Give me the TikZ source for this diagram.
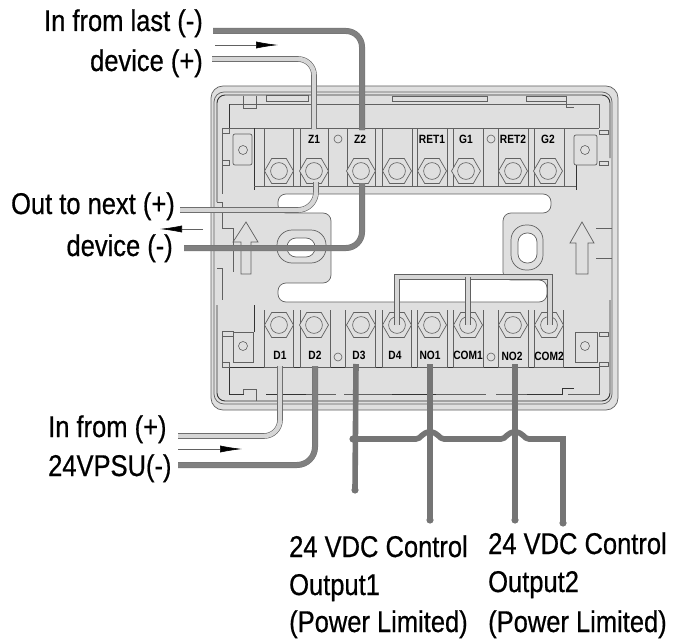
\documentclass[tikz,border=0pt]{standalone}
\usepackage{fontspec}
\setmainfont[FakeStretch=0.85]{Liberation Sans}
\newfontfamily\heavyfont[FakeStretch=0.85,FakeBold=0.6]{Liberation Sans}
\usetikzlibrary{shapes.geometric,arrows.meta}
\definecolor{bodyc}{gray}{0.875}
\definecolor{edgec}{gray}{0.38}
\definecolor{wdark}{gray}{0.5}
\definecolor{wlight}{gray}{0.84}
\tikzset{
  bodyline/.style={draw=edgec,line width=0.7pt},
  darkline/.style={draw=black!80,line width=0.9pt},
  block/.style={draw=edgec,line width=0.7pt,fill=bodyc},
  nut/.style={regular polygon,regular polygon sides=6,draw=edgec,line width=0.7pt,fill=bodyc,minimum size=29pt,inner sep=0pt},
  hole/.style={circle,draw=edgec,line width=0.6pt,minimum size=9pt,inner sep=0pt},
  wiredark/.style={draw=black!55,double=wdark,double distance=5pt,line width=0.5pt},
  wirelight/.style={draw=edgec,double=wlight,double distance=4.4pt,line width=0.6pt},
  wireplain/.style={draw=wdark!92!black,line width=5.6pt},
  flow/.style={draw=edgec,line width=0.6pt,-{Latex[length=22pt,width=7pt,black]}},
  biglabel/.style={font=\heavyfont\fontsize{30}{32}\selectfont,inner sep=0pt,text=black},
  termlabel/.style={font=\fontsize{12}{12}\selectfont\bfseries,inner sep=0pt,text=black},
}
\newcommand{\nutat}[3]{\node[nut] (#1) at (#2,#3) {}; \draw[edgec,line width=0.6pt] (#2,#3) circle (8.4pt);}
\begin{document}
\begin{tikzpicture}[x=1pt,y=-1pt]
\useasboundingbox (0,0) rectangle (683,642);
% housing
\draw[bodyline,fill=bodyc,rounded corners=12pt] (211,86) rectangle (618,410);
\draw[bodyline,rounded corners=10pt] (214,92) -- (612,92) -- (612,404) -- (214,404) -- cycle;
\draw[darkline,rounded corners=8pt] (610,158) -- (610,95) -- (217,95) -- (217,202);
\draw[darkline,rounded corners=8pt] (217,305) -- (217,401) -- (610,401) -- (610,300);
\draw[bodyline] (217,202) -- (222,202) -- (222,228) -- (233,228) -- (233,272);
\draw[bodyline] (217,268) -- (222,268) -- (222,300);
\draw[bodyline] (612,228) -- (596,228) (612,258) -- (596,258);
% central cut-out
\draw[bodyline,fill=white,rounded corners=8pt] (278,194) -- (551,194) -- (551,213) -- (503,213) -- (503,280) -- (547,280) -- (547,302) -- (278,302) -- (278,283) -- (331,283) -- (331,213) -- (278,213) -- cycle;
% bands
\draw[bodyline] (229,128) -- (229,104) -- (599,104) -- (599,128);
\draw[darkline] (229,128) -- (229,104);
\draw[bodyline] (229,128) -- (599,128);
\draw[bodyline] (266,95) rectangle (308,101);
\draw[bodyline] (243,96) -- (243,108) -- (256,108) -- (256,96);
\draw[bodyline] (392,96) rectangle (487,101);
\draw[bodyline] (526,96) -- (566,96) -- (566,101) -- (526,101) -- cycle;
\draw[bodyline] (566,96) -- (566,107) -- (574,107);
\draw[darkline] (254,128) -- (254,190);
\draw[darkline] (576,165) -- (576,190);
\draw[bodyline] (254,186) -- (576,186);
\draw[darkline] (229,367) -- (600,367);
\draw[darkline] (229,367) -- (229,394) -- (244,394);
\draw[bodyline] (599,367) -- (599,394) -- (568,394);
\draw[darkline] (254,305) -- (254,332);
\draw[bodyline] (243,389) -- (256,389) -- (256,401) (243,389) -- (243,394);
\draw[darkline] (266,394) -- (306,394);
\draw[darkline] (392,394) -- (436,394);
\draw[darkline] (527,394) -- (562,394) -- (562,388) -- (574,388);
\draw[bodyline] (306,394) -- (336,394) (344,394) -- (392,394) (436,394) -- (486,394) (496,394) -- (527,394);
\draw[bodyline] (222,128) -- (222,194) (222,332) -- (222,366);
\draw[bodyline] (222,128) rectangle (229,133);
\draw[bodyline] (222,160) rectangle (229,165);
\draw[bodyline] (222,331) rectangle (233,336);
\draw[bodyline] (222,362) rectangle (229,367);
\draw[bodyline] (599,130) rectangle (608,134);
\draw[bodyline] (599,161) rectangle (608,165);
\draw[bodyline] (599,332) rectangle (608,336);
\draw[bodyline] (599,362) rectangle (608,366);
% mounting tabs
\draw[bodyline,rounded corners=2pt] (233,134) rectangle (252,165);
\node[hole] (hA) at (243,150) {};
\draw[bodyline,rounded corners=2pt] (574,135) rectangle (597,165);
\node[hole] (hB) at (585,150) {};
\draw[bodyline] (233,332) rectangle (253,362);
\node[hole] (hC) at (243,346) {};
\draw[bodyline] (575,332) rectangle (597,362);
\node[hole] (hD) at (585,346) {};
\node[hole,minimum size=8pt] (hE) at (338,139) {};
\node[hole,minimum size=8pt] (hF) at (491,139) {};
\node[hole,minimum size=8pt] (hG) at (338,357) {};
\node[hole,minimum size=8pt] (hH) at (491,357) {};
% ovals
\draw[bodyline,rounded corners=15pt] (277,230) rectangle (326,263);
\draw[bodyline,fill=white,rounded corners=9pt] (287,238) rectangle (315,257);
\draw[bodyline,rounded corners=15pt] (511,225) rectangle (543,270);
\draw[bodyline,fill=white,rounded corners=9pt] (518,233) rectangle (537,263);
% arrows on housing
\draw[bodyline] (246,222) -- (258,242) -- (251,242) -- (251,274) -- (241,274) -- (241,242) -- (233,242) -- cycle;
\draw[bodyline] (582,222) -- (594,243) -- (588,243) -- (588,274) -- (576,274) -- (576,243) -- (570,243) -- cycle;
% terminal blocks, top
\foreach \xa/\xb in {264/293,300/328,347/375,382/412,417/447,453/483,498/528,534/564}
  \draw[block] (\xa,128) rectangle (\xb,186);
% terminal blocks, bottom
\foreach \xa/\xb in {264/293,300/330,345/375,382/411,417/447,453/483,498/528,534/563}{
  \fill[bodyc] (\xa,310) rectangle (\xb,367);
  \draw[bodyline] (\xa,310) -- (\xa,367) -- (\xb,367) -- (\xb,310);
}
\nutat{tA}{279}{171}
\nutat{tB}{314}{171}
\nutat{tC}{361}{171}
\nutat{tD}{397}{171}
\nutat{tE}{432}{171}
\nutat{tF}{466}{171}
\nutat{tG}{513}{171}
\nutat{tH}{548}{171}
\nutat{bA}{279}{325}
\nutat{bB}{314}{325}
\nutat{bC}{361}{325}
\nutat{bD}{397}{325}
\nutat{bE}{432}{325}
\nutat{bF}{468}{325}
\nutat{bG}{513}{325}
\nutat{bH}{549}{325}
% terminal labels
\node[termlabel] (lZa) at (314,139) {Z1};
\node[termlabel] (lZb) at (360,139) {Z2};
\node[termlabel] (lRa) at (432,139) {RET1};
\node[termlabel] (lGa) at (466,139) {G1};
\node[termlabel] (lRb) at (513,139) {RET2};
\node[termlabel] (lGb) at (548,139) {G2};
\node[termlabel] (lDa) at (280,355) {D1};
\node[termlabel] (lDb) at (315,355) {D2};
\node[termlabel] (lDc) at (359,355) {D3};
\node[termlabel] (lDd) at (395,355) {D4};
\node[termlabel] (lNa) at (430,355) {NO1};
\node[termlabel] (lCa) at (468,355) {COM1};
\node[termlabel] (lNb) at (512,356) {NO2};
\node[termlabel] (lCb) at (549,356) {COM2};
% free ends
\coordinate (inLastEnd) at (213,31);
\coordinate (inPlusEnd) at (212,59);
\coordinate (outPlusEnd) at (180,210);
\coordinate (outMinusEnd) at (184,248);
\coordinate (psuPlusEnd) at (178,436);
\coordinate (psuMinusEnd) at (178,465);
\coordinate (dEnd) at (355,490);
\coordinate (noAEnd) at (430,520);
\coordinate (noBEnd) at (515,520);
\coordinate (comEnd) at (563,523);
% wires
\draw[wiredark,rounded corners=16pt] (inLastEnd) -- (362,31) -- (362,130);
\draw[wirelight,rounded corners=16pt] (inPlusEnd) -- (314,59) -- (314,129);
\draw[wirelight,rounded corners=18pt] (outPlusEnd) -- (316,210) -- (316,182);
\draw[wiredark,rounded corners=16pt] (outMinusEnd) -- (362,248) -- (362,183);
\draw[wirelight,rounded corners=16pt] (psuPlusEnd) -- (280,436) -- (280,366);
\draw[wiredark,rounded corners=18pt] (psuMinusEnd) -- (315,465) -- (315,366);
\draw[wirelight] (397,325) -- (397,277) -- (550,277) -- (550,325);
\draw[wirelight] (468,277) -- (468,325);
% output wiring
\draw[wireplain] (356,364) -- (dEnd);
\draw[wireplain] (430,364) -- (noAEnd);
\draw[wireplain] (515,364) -- (noBEnd);
\draw[wireplain,line join=miter] (353,439) -- (416,439) .. controls (421,439) and (422,432) .. (430,432) .. controls (438,432) and (439,439) .. (444,439) -- (501,439) .. controls (506,439) and (507,432) .. (515,432) .. controls (523,432) and (524,439) .. (529,439) -- (563,439) -- (comEnd);
\fill[wdark!92!black] (353,439) circle (3.6pt);
\fill[wdark!92!black] (dEnd) circle (3.6pt);
\fill[wdark!92!black] (noAEnd) circle (3.6pt);
\fill[wdark!92!black] (noBEnd) circle (3.6pt);
\fill[wdark!92!black] (comEnd) circle (3.6pt);
% flow arrows
\coordinate (fAa) at (215,45); \coordinate (fAb) at (278,45);
\coordinate (fBa) at (203,229); \coordinate (fBb) at (160,229);
\coordinate (fCa) at (178,449); \coordinate (fCb) at (242,449);
\draw[flow] (fAa) -- (fAb);
\draw[flow] (fBa) -- (fBb);
\draw[flow] (fCa) -- (fCb);
% big labels
\node[biglabel,anchor=base east] (tA1) at (203,31) {In from last (-)};
\node[biglabel,anchor=base east] (tA2) at (203,71) {device (+)};
\node[biglabel,anchor=base east] (tB1) at (175,214) {Out to next (+)};
\node[biglabel,anchor=base east] (tB2) at (173,256) {device (-)};
\node[biglabel,anchor=base west] (tC1) at (48,437) {In from (+)};
\node[biglabel,anchor=base west] (tC2) at (48,476) {24VPSU(-)};
\node[biglabel,anchor=base west] (tD1) at (289,557) {24 VDC Control};
\node[biglabel,anchor=base west] (tD2) at (289,595) {Output1};
\node[biglabel,anchor=base west] (tD3) at (289,632) {(Power Limited)};
\node[biglabel,anchor=base west] (tE1) at (488,554) {24 VDC Control};
\node[biglabel,anchor=base west] (tE2) at (488,592) {Output2};
\node[biglabel,anchor=base west] (tE3) at (488,632) {(Power Limited)};
\end{tikzpicture}
\end{document}
